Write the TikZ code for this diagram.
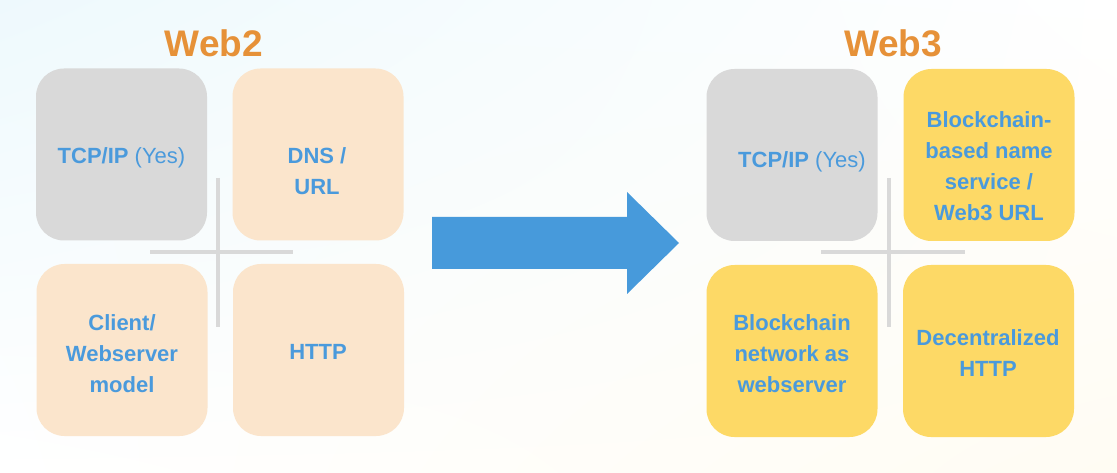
\documentclass[tikz,border=0pt]{standalone}
\usepackage{fontspec}
\setmainfont{Liberation Sans}
\usetikzlibrary{calc,positioning,shadings}
\definecolor{tcpgray}{HTML}{D9D9D9}
\definecolor{peach}{HTML}{FBE5CC}
\definecolor{gold}{HTML}{FDD966}
\definecolor{txtblue}{HTML}{4A9ADC}
\definecolor{arrblue}{HTML}{479ADB}
\definecolor{ttlorange}{HTML}{E69138}
\definecolor{bgcyan}{HTML}{EEF9FD}
\definecolor{bgcream}{HTML}{FFFCF3}
\begin{document}
\begin{tikzpicture}[x=1pt, y=-1pt,
 box/.style={rounded corners=28pt, minimum width=171pt, minimum height=172pt, inner sep=0pt},
 txt/.style={align=center, text=txtblue, inner sep=0pt, font=\fontsize{22}{31}\selectfont\bfseries},
 ttl/.style={text=ttlorange, inner sep=0pt, font=\fontsize{37}{40}\selectfont\bfseries},
 xbar/.style={draw=tcpgray, line width=4pt}]
\shade[upper left=bgcyan, upper right=white, lower left=white, lower right=bgcream] (0,0) rectangle (1117,473);
\useasboundingbox (0,0) rectangle (1117,473);
% titles
\node[ttl] (web2) at (214,43) {Web2};
\node[ttl] (web3) at (893,43) {Web3};
% crosses
\draw[xbar] (218,178) -- (218,327);
\draw[xbar] (150,252) -- (293,252);
\draw[xbar] (889,178) -- (889,327);
\draw[xbar] (821,252) -- (965,252);
% boxes
\foreach \n/\x/\y/\c in {w2a/121.5/154.5/tcpgray, w2b/318/154.5/peach, w2c/122/350/peach, w2d/318.5/350/peach,
 w3a/792/155/tcpgray, w3b/989/155/gold, w3c/792/351/gold, w3d/988.5/351/gold}{\node[box, fill=\c] (\n) at (\x,\y) {};}
% texts
\node[txt] (w2at) at (121.5,158) {TCP/IP {\mdseries(Yes)}};
\node[txt] (w2bt) at (317,171) {DNS /\\URL};
\node[txt] (w2ct) at (122,354) {Client/\\Webserver\\model};
\node[txt] (w2dt) at (318,352) {HTTP};
\node[txt] (w3at) at (802,162) {TCP/IP {\mdseries(Yes)}};
\node[txt] (w3bt) at (989,166) {Blockchain-\\based name\\service /\\Web3 URL};
\node[txt] (w3ct) at (792,354) {Blockchain\\network as\\webserver};
\node[txt] (w3dt) at (988,353) {Decentralized\\HTTP};
% arrow
\fill[arrblue] (432,217) -- (627,217) -- (627,192) -- (679,243) -- (627,294) -- (627,269) -- (432,269) -- cycle;
\end{tikzpicture}
\end{document}
